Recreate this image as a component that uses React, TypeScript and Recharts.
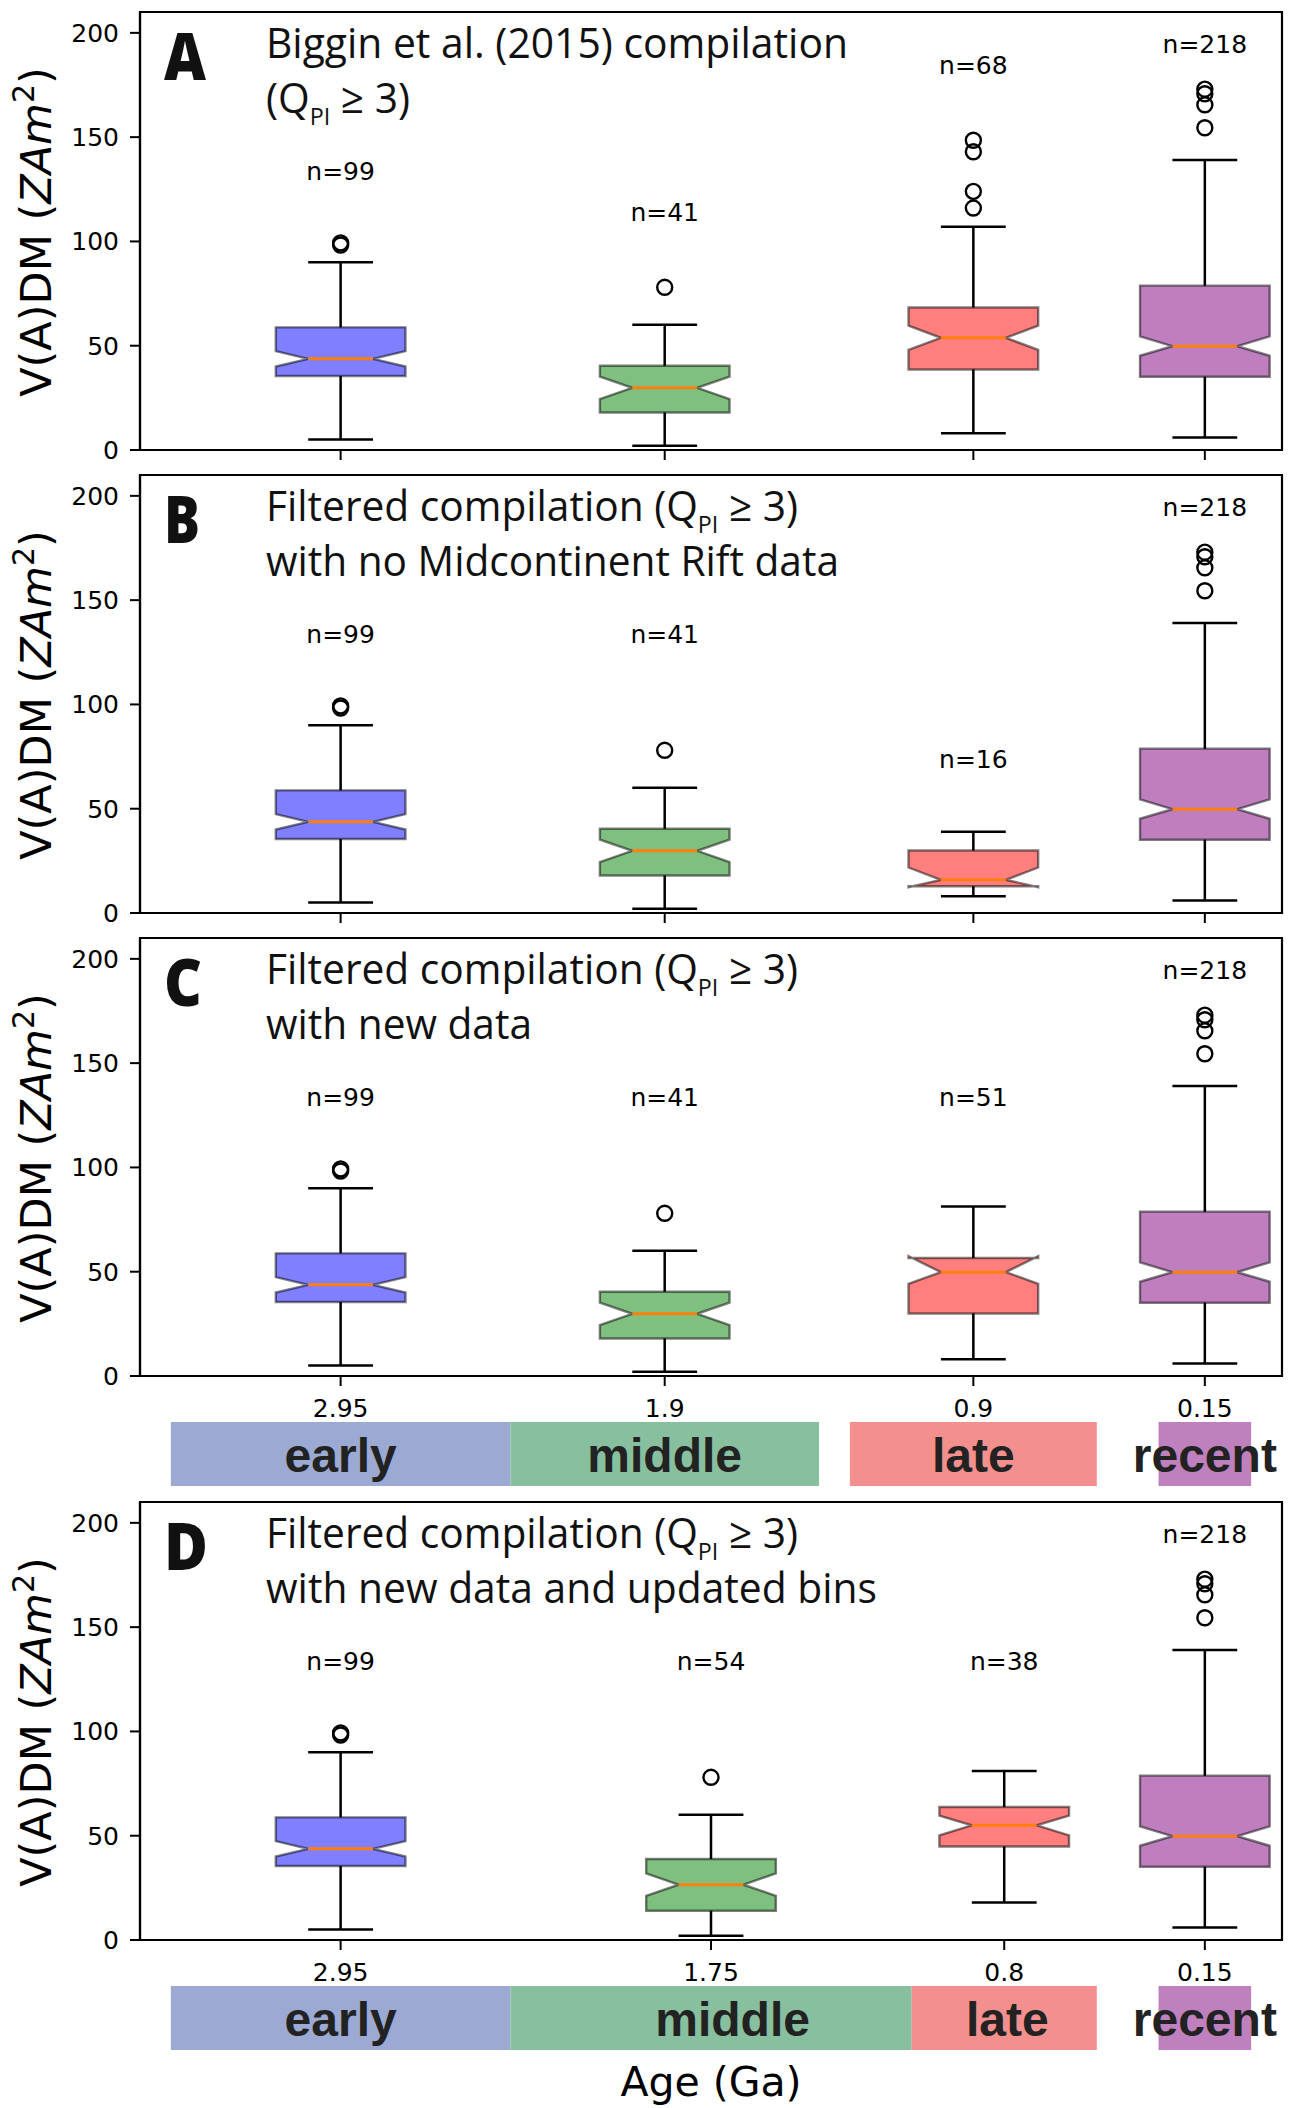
import { ScatterChart, Scatter, XAxis, YAxis, ReferenceArea } from 'recharts'

// box stats: [whisker low, Q1, notch low, median, notch high, Q3, whisker high]
const EARLY = [5, 35.5, 40, 43.7, 47.4, 58.8, 90]
const EARLY_OUTLIERS = [98.3, 99.3]
const MIDDLE = [2, 18, 24.4, 29.8, 35.2, 40.4, 60]
const MIDDLE_OUTLIERS = [78]
const MIDDLE_D = [2, 14, 21.2, 26.5, 31.9, 38.8, 60]
const LATE_A = [8, 38.6, 48, 53.8, 59.6, 68.3, 107]
const LATE_A_OUTLIERS = [116, 124, 143, 148.5]
const LATE_B = [8, 12.8, 12.4, 15.9, 21.8, 30, 39]
const LATE_C = [8, 30, 44.2, 49.8, 57.5, 56.6, 81.3]
const LATE_D = [18, 44.8, 50.2, 55, 59.6, 63.8, 81]
const RECENT = [6, 35.1, 45.2, 49.8, 54.5, 78.8, 139]
const RECENT_OUTLIERS = [154.5, 165.5, 170.8, 173]
const NO_OUTLIERS: number[] = []

// bin centres (Ga)
const AGES = [2.95, 1.9, 0.9, 0.15]
const AGES_D = [2.95, 1.75, 0.8, 0.15]

// sample counts and where their labels sit (y value)
const COUNTS_A = [99, 41, 68, 218]
const COUNTS_B = [99, 41, 16, 218]
const COUNTS_C = [99, 41, 51, 218]
const COUNTS_D = [99, 54, 38, 218]
const COUNT_Y_A = [134, 114, 184.5, 194.5]
const COUNT_Y_B = [134, 134, 74, 194.5]
const COUNT_Y_C = [134, 134, 134, 194.5]
const COUNT_Y_D = [134, 134, 134, 194.5]

// age bins under panels C and D (Ga)
const BIN_NAMES = ['early', 'middle', 'late', 'recent']
const BINS_C = [[3.5, 2.4], [2.4, 1.4], [1.3, 0.5], [0.3, 0.0]]
const BINS_D = [[3.5, 2.4], [2.4, 1.1], [1.1, 0.5], [0.3, 0.0]]
const BIN_LABEL_X_C = [2.95, 1.9, 0.9, 0.15]
const BIN_LABEL_X_D = [2.95, 1.68, 0.79, 0.15]

const Y_TICKS = [0, 50, 100, 150, 200]

const BOX_COLORS = ['#7f7fff', '#7fbf7f', '#ff7f7f', '#bf7fbf']
const BIN_COLORS = ['#9caad3', '#87bf9f', '#f3908e', '#bf80be']

const HALF = 0.21
const WAIST = 0.105
const CAP = 0.105
const TITLE_FONT = "'Open Sans', 'Noto Sans', sans-serif"
const AXIS_FONT = "'DejaVu Sans', sans-serif"

const boxPoints = (x: number, s: number[]) => {
  const [, q1, nlo, med, nhi, q3] = s
  return [
    { x: x + HALF, y: q1 }, { x: x + HALF, y: nlo }, { x: x + WAIST, y: med },
    { x: x + HALF, y: nhi }, { x: x + HALF, y: q3 }, { x: x - HALF, y: q3 },
    { x: x - HALF, y: nhi }, { x: x - WAIST, y: med }, { x: x - HALF, y: nlo },
    { x: x - HALF, y: q1 },
  ]
}

const whiskerPoints = (x: number, s: number[]) => [
  { x: x - CAP, y: s[0] }, { x: x + CAP, y: s[0] }, { x, y: s[0] },
  { x, y: s[6] }, { x: x + CAP, y: s[6] }, { x: x - CAP, y: s[6] },
]

const Hidden = () => <g />

const boxLine = (fill: string) => (p: any) => (
  <polygon
    points={p.points.map((q: any) => `${q.x},${q.y}`).join(' ')}
    fill={fill}
    stroke="#000"
    strokeOpacity={0.5}
    strokeWidth={2.4}
  />
)

const Ring = (p: any) => (
  <circle cx={p.cx} cy={p.cy} r={7.5} fill="none" stroke="#000" strokeWidth={2.4} />
)

const CountLabel = (p: any) => (
  <text x={p.cx} y={p.cy} dy="0.36em" textAnchor="middle" fontFamily={AXIS_FONT} fontSize={25} fill="#000">
    {p.payload.label}
  </text>
)

const BinLabel = (p: any) => (
  <text x={p.cx} y={p.cy} dy="0.37em" textAnchor="middle" fontFamily="'Liberation Sans', Arial, sans-serif" fontWeight={700} fontSize={48} fill="#222">
    {p.payload.label}
  </text>
)

interface PanelProps {
  top: number
  ages: number[]
  boxes: number[][]
  outliers: number[][]
  counts: number[]
  countY: number[]
  tickLabels: boolean
}

function Panel({ top, ages, boxes, outliers, counts, countY, tickLabels }: PanelProps) {
  const outlierPts = outliers.flatMap((list, i) => list.map((y) => ({ x: ages[i], y })))
  const countPts = counts.map((n, i) => ({ x: ages[i], y: countY[i], label: `n=${n}` }))
  return (
    <div style={{ position: 'absolute', left: 0, top }}>
      <ScatterChart width={1290} height={500} margin={{ top: 12, right: 8, bottom: 0, left: 40 }}>
        <XAxis
          type="number"
          dataKey="x"
          domain={[-0.1, 3.6]}
          reversed
          allowDataOverflow
          ticks={ages}
          interval={0}
          height={50}
          tickSize={10}
          tickMargin={13}
          axisLine={{ stroke: '#000', strokeWidth: 2.2 }}
          tickLine={{ stroke: '#000', strokeWidth: 2 }}
          tick={tickLabels ? { fill: '#000', fontSize: 25, fontFamily: AXIS_FONT } : Hidden}
        />
        <YAxis
          type="number"
          dataKey="y"
          domain={[0, 210]}
          allowDataOverflow
          ticks={Y_TICKS}
          interval={0}
          width={100}
          tickSize={10}
          tickMargin={11}
          axisLine={{ stroke: '#000', strokeWidth: 2.2 }}
          tickLine={{ stroke: '#000', strokeWidth: 2 }}
          tick={{ fill: '#000', fontSize: 25, fontFamily: AXIS_FONT }}
        />
        <ReferenceArea x1={-0.1} x2={3.6} y1={0} y2={210} fill="none" stroke="#000" strokeWidth={2.2} />
        {boxes.map((s, i) => (
          <Scatter
            key={`w${i}`}
            data={whiskerPoints(ages[i], s)}
            shape={Hidden}
            line={{ stroke: '#000', strokeWidth: 2.5 }}
            lineJointType="linear"
            isAnimationActive={false}
          />
        ))}
        {boxes.map((s, i) => (
          <Scatter
            key={`b${i}`}
            data={boxPoints(ages[i], s)}
            shape={Hidden}
            line={boxLine(BOX_COLORS[i])}
            isAnimationActive={false}
          />
        ))}
        {boxes.map((s, i) => (
          <Scatter
            key={`m${i}`}
            data={[{ x: ages[i] + WAIST, y: s[3] }, { x: ages[i] - WAIST, y: s[3] }]}
            shape={Hidden}
            line={{ stroke: '#ff7f0e', strokeWidth: 3 }}
            lineJointType="linear"
            isAnimationActive={false}
          />
        ))}
        <Scatter data={outlierPts} shape={Ring} isAnimationActive={false} />
        <Scatter data={countPts} shape={CountLabel} isAnimationActive={false} />
      </ScatterChart>
    </div>
  )
}

function BinRow({ top, bins, labelX }: { top: number; bins: number[][]; labelX: number[] }) {
  const labelPts = labelX.map((x, i) => ({ x, y: 0.5, label: BIN_NAMES[i] }))
  return (
    <div style={{ position: 'absolute', left: 0, top }}>
      <ScatterChart width={1290} height={64} margin={{ top: 0, right: 8, bottom: 0, left: 140 }}>
        <XAxis type="number" dataKey="x" domain={[-0.1, 3.6]} reversed allowDataOverflow hide />
        <YAxis type="number" dataKey="y" domain={[0, 1]} allowDataOverflow hide />
        {bins.map(([a, b], i) => (
          <ReferenceArea key={i} x1={a} x2={b} y1={0} y2={1} fill={BIN_COLORS[i]} fillOpacity={1} stroke="none" />
        ))}
        <Scatter data={labelPts} shape={BinLabel} isAnimationActive={false} />
      </ScatterChart>
    </div>
  )
}

const QPI = (len: number, y: number, prefix: string) => (
  <text x={266} y={y} fontFamily={TITLE_FONT} fontSize={42} fill="#111" textLength={len} lengthAdjust="spacingAndGlyphs">
    {prefix}(Q<tspan fontSize={24} dy={12}>PI</tspan><tspan dy={-12}> ≥ 3)</tspan>
  </text>
)

function Header({ plotTop, letter, letterLen, first, second }: any) {
  const cy = plotTop + 220
  return (
    <g>
      <text x={164} y={plotTop + 68} fontFamily={TITLE_FONT} fontWeight={800} fontSize={66} fill="#111" textLength={letterLen} lengthAdjust="spacingAndGlyphs">
        {letter}
      </text>
      {first(plotTop + 46)}
      {second(plotTop + 101)}
      <text x={51} y={cy} transform={`rotate(-90 51 ${cy})`} textAnchor="middle" fontFamily={AXIS_FONT} fontSize={43} fill="#000">
        V(A)DM (<tspan fontStyle="italic">ZAm</tspan><tspan fontSize={30} dy={-17}>2</tspan><tspan dy={17}>)</tspan>
      </text>
    </g>
  )
}

const plain = (s: string, len: number) => (y: number) => (
  <text x={266} y={y} fontFamily={TITLE_FONT} fontSize={42} fill="#111" textLength={len} lengthAdjust="spacingAndGlyphs">
    {s}
  </text>
)

export default function App() {
  return (
    <div style={{ position: 'absolute', left: 0, top: 0, width: 1290, height: 2108, background: '#fff', overflow: 'hidden' }}>
      <Panel top={0} ages={AGES} boxes={[EARLY, MIDDLE, LATE_A, RECENT]}
        outliers={[EARLY_OUTLIERS, MIDDLE_OUTLIERS, LATE_A_OUTLIERS, RECENT_OUTLIERS]}
        counts={COUNTS_A} countY={COUNT_Y_A} tickLabels={false} />
      <Panel top={463} ages={AGES} boxes={[EARLY, MIDDLE, LATE_B, RECENT]}
        outliers={[EARLY_OUTLIERS, MIDDLE_OUTLIERS, NO_OUTLIERS, RECENT_OUTLIERS]}
        counts={COUNTS_B} countY={COUNT_Y_B} tickLabels={false} />
      <Panel top={926} ages={AGES} boxes={[EARLY, MIDDLE, LATE_C, RECENT]}
        outliers={[EARLY_OUTLIERS, MIDDLE_OUTLIERS, NO_OUTLIERS, RECENT_OUTLIERS]}
        counts={COUNTS_C} countY={COUNT_Y_C} tickLabels />
      <BinRow top={1422} bins={BINS_C} labelX={BIN_LABEL_X_C} />
      <Panel top={1490} ages={AGES_D} boxes={[EARLY, MIDDLE_D, LATE_D, RECENT]}
        outliers={[EARLY_OUTLIERS, MIDDLE_OUTLIERS, NO_OUTLIERS, RECENT_OUTLIERS]}
        counts={COUNTS_D} countY={COUNT_Y_D} tickLabels />
      <BinRow top={1986} bins={BINS_D} labelX={BIN_LABEL_X_D} />
      <svg width={1290} height={2108} style={{ position: 'absolute', left: 0, top: 0, pointerEvents: 'none' }}>
        <Header plotTop={12} letter="A" letterLen={42}
          first={plain('Biggin et al. (2015) compilation', 582)}
          second={(y: number) => QPI(144, y, '')} />
        <Header plotTop={475} letter="B" letterLen={36}
          first={(y: number) => QPI(532, y, 'Filtered compilation ')}
          second={plain('with no Midcontinent Rift data', 573)} />
        <Header plotTop={938} letter="C" letterLen={38}
          first={(y: number) => QPI(532, y, 'Filtered compilation ')}
          second={plain('with new data', 266)} />
        <Header plotTop={1502} letter="D" letterLen={44}
          first={(y: number) => QPI(532, y, 'Filtered compilation ')}
          second={plain('with new data and updated bins', 611)} />
        <text x={711} y={2096} textAnchor="middle" fontFamily={AXIS_FONT} fontSize={41} fill="#000">
          Age (Ga)
        </text>
      </svg>
    </div>
  )
}
